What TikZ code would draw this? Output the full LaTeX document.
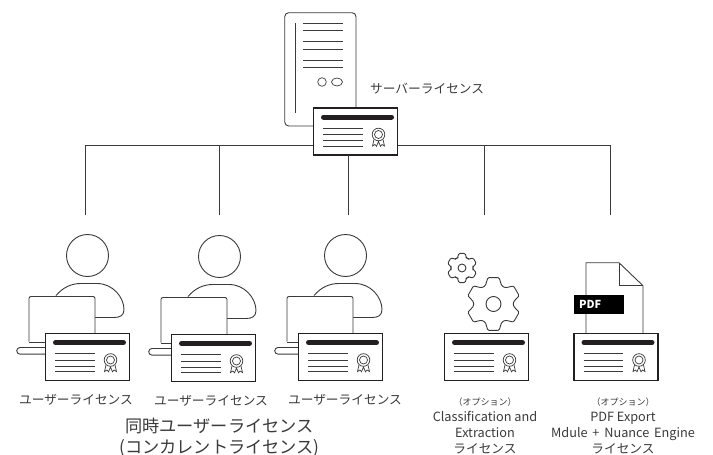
\documentclass[tikz,border=0pt]{standalone}
\usepackage{fontspec}
\setmainfont{Noto Sans CJK JP}
\usepackage{xcolor}
\definecolor{inkgray}{HTML}{3A3A3A}
\definecolor{barblack}{HTML}{231F20}

\tikzset{
	line/.style = {draw=inkgray, line width=0.9pt},
	thinline/.style = {draw=inkgray, line width=0.7pt},
	card/.style = {draw=barblack, fill=white, line width=1.1pt, minimum width=84pt, minimum height=47pt, inner sep=0pt, outer sep=0pt},
	lbl/.style = {text=inkgray, font=\fontsize{12.7}{15.8}\selectfont, align=center, inner sep=0pt},
	lblbig/.style = {text=inkgray, font=\fontsize{17.2}{21}\selectfont, align=center, inner sep=0pt},
}

% licence card, #1 name, #2 #3 centre
\newcommand{\LicenseCard}[3]{
	\node[card] (#1) at (#2,#3) {};
	\begin{scope}[shift={(#1.center)}]
		\draw[barblack, line width=5pt, line cap=round] (-32,-14.5) -- (36,-14.5);
		\foreach \yy in {-3.5,3,9,14.5}
			\draw[thinline] (-32.5,\yy) -- (7,\yy);
		\draw[thinline] (23,3) circle (6.3);
		\draw[thinline] (23,3) circle (4);
		\draw[thinline] (18.5,8) -- (17,14.5) -- (19.5,13) -- (21,14.8) -- (23,10) -- (25,14.8) -- (26.5,13) -- (29,14.5) -- (27.5,8);
	\end{scope}
}

% person behind a laptop, #1 name, #2 #3 left end of laptop base
\newcommand{\UserLaptop}[3]{
	\begin{scope}[shift={(#2,#3)}]
		\node[circle, line, minimum size=42pt, inner sep=0pt] (#1) at (70.5,-92) {};
		\draw[line] (39,-52) .. controls (46,-60) and (54,-64) .. (64,-64) -- (80,-64) .. controls (96,-64) and (107,-50) .. (107,-38) .. controls (107,-32) and (103,-30) .. (97,-30) -- (78,-30);
		\draw[line, fill=white, rounded corners=2pt] (12,-6) -- (12,-51) -- (78,-51) -- (78,-6);
		\draw[line] (12,-5.5) -- (30,-5.5);
		\draw[line, fill=white] (30,0) -- (3,0) arc (-90:-270:3.3) -- (30,6.6);
	\end{scope}
}

% gear with six teeth, #1 name, #2 #3 centre, #4 outer, #5 root, #6 hole
\newcommand{\GearWheel}[6]{
	\begin{scope}[shift={(#2,#3)}]
		\draw[line, rounded corners=1.2pt] (102:#4) -- (78:#4) -- (66:#5) -- (54:#5)
			\foreach \aa in {30,-30,-90,-150,-210} {
				-- ({\aa+12}:#4) -- ({\aa-12}:#4) -- ({\aa-24}:#5) -- ({\aa-36}:#5)
			} -- cycle;
		\node[circle, line, minimum size=#6, inner sep=0pt] (#1) at (0,0) {};
	\end{scope}
}

\begin{document}
\begin{tikzpicture}[x=1pt, y=-1pt]
			\useasboundingbox (0,0) rectangle (713,455);

			% server
			\draw[line, rounded corners=4pt] (284.7,12.7) rectangle (356,126);
			\draw[thinline] (295,23) -- (295,113);
			\foreach \yy in {23,30.7,41.5,49.5,60,67.5}
				\draw[thinline] (303,\yy) -- (343,\yy);
			\draw[thinline] (322,82) circle (4.3);
			\draw[thinline] (337,82) ellipse (5.5 and 4);

			% free ends of the tree
			\coordinate (busleft) at (85.5,145);
			\coordinate (busright) at (610.5,145);
			\coordinate (user1) at (85.5,215);
			\coordinate (user2) at (219,145);
			\coordinate (user2end) at (219,215);
			\coordinate (user3end) at (348,215);
			\coordinate (opt1) at (484,145);
			\coordinate (opt1end) at (484,215);
			\coordinate (opt2end) at (610.5,215);

			\draw[line] (user1) -- (busleft) -- (busright) -- (opt2end);
			\draw[line] (user2) -- (user2end);
			\draw[line] (opt1) -- (opt1end);

			\LicenseCard{servercard}{355.5}{131.5}
			\draw[line] (servercard.south -| user3end) -- (user3end);

			\UserLaptop{head1}{17}{347.5}
			\UserLaptop{head2}{149}{348.5}
			\UserLaptop{head3}{275}{347.5}

			\LicenseCard{usercard1}{87.5}{357}
			\LicenseCard{usercard2}{213.5}{358}
			\LicenseCard{usercard3}{340.5}{357}

			\GearWheel{gearbig}{493.5}{304}{27}{20}{15pt}
			\GearWheel{gearsmall}{462}{268}{15}{11}{8pt}
			\LicenseCard{optcard1}{486.5}{357}

			% pdf
			\draw[line] (586,334) -- (586,262.7) -- (619,262.7) -- (643,285.7) -- (643,334);
			\draw[line] (619,262.7) -- (619,285.7) -- (643,285.7);
			\node[fill=black, text=white, minimum width=50pt, minimum height=19pt, inner sep=0pt, font=\fontsize{11}{11}\bfseries\selectfont, text width=40pt] (pdftag) at (599,304.5) {PDF};
			\LicenseCard{optcard2}{616}{357}

			% labels
			\node[lbl, anchor=west] (serverlbl) at (370,89) {サーバーライセンス};
			\node[lbl] (userlbl1) at (76,399.5) {ユーザーライセンス};
			\node[lbl] (userlbl2) at (211,401) {ユーザーライセンス};
			\node[lbl] (userlbl3) at (345,399.5) {ユーザーライセンス};
			\node[lblbig] (concurrent) at (219.5,437.5) {同時ユーザーライセンス\\(コンカレントライセンス)};
			\node[lbl, anchor=north] (optlbl1) at (485,398) {{\fontsize{9}{13}\selectfont （オプション）}\\Classification and\\Extraction\\ライセンス};
			\node[lbl, anchor=north] (optlbl2) at (623,398) {{\fontsize{9}{13}\selectfont （オプション）}\\PDF Export\\Mdule\hspace{2pt} +\hspace{2pt} Nuance\hspace{2pt} Engine\\ライセンス};
\end{tikzpicture}
\end{document}
